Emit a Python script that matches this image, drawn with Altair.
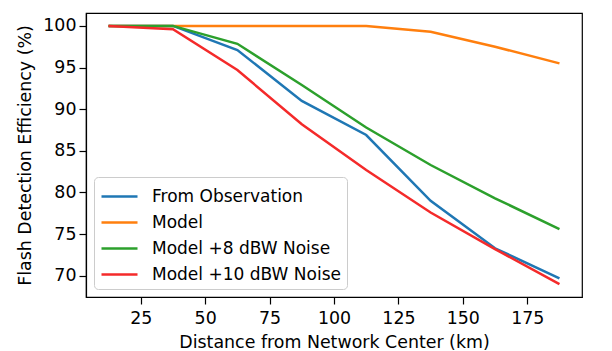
import altair as alt
import pandas as pd

distance = [12.5, 37.5, 62.5, 87.5, 112.5, 137.5, 162.5, 187.5]
observation = [100.0, 100.0, 97.1, 91.0, 86.9, 79.0, 73.3, 69.7]
model = [100.0, 100.0, 100.0, 100.0, 100.0, 99.3, 97.5, 95.5]
model_8 = [100.0, 100.0, 97.85, 92.9, 87.8, 83.3, 79.3, 75.6]
model_10 = [100.0, 99.6, 94.7, 88.2, 82.7, 77.6, 73.2, 69.0]

series_names = ["From Observation", "Model", "Model +8 dBW Noise", "Model +10 dBW Noise"]
series_values = [observation, model, model_8, model_10]
colors = ["#1f77b4", "#ff7f0e", "#2ca02c", "#f42a2a"]

rows = []
for name, vals in zip(series_names, series_values):
    for d, v in zip(distance, vals):
        rows.append({"distance": d, "efficiency": v, "series": name})
df = pd.DataFrame(rows)

FONT = "DejaVu Sans"
FS = 17.4

chart = alt.Chart(df).mark_line(strokeWidth=2.5, clip=True).encode(
    x=alt.X("distance:Q",
            scale=alt.Scale(domain=[3.75, 196.25], nice=False, zero=False),
            axis=alt.Axis(title="Distance from Network Center (km)",
                          values=[25, 50, 75, 100, 125, 150, 175],
                          grid=False, tickSize=7, labelPadding=5,
                          titlePadding=7)),
    y=alt.Y("efficiency:Q",
            scale=alt.Scale(domain=[67.45, 101.55], nice=False, zero=False),
            axis=alt.Axis(title="Flash Detection Efficiency (%)",
                          values=[70, 75, 80, 85, 90, 95, 100],
                          grid=False, tickSize=7, labelPadding=3,
                          titlePadding=8)),
    color=alt.Color("series:N",
                    scale=alt.Scale(domain=series_names, range=colors),
                    sort=series_names,
                    legend=alt.Legend(title=None, orient="bottom-left",
                                      offset=8,
                                      symbolType="M-1,0H2",
                                      symbolStrokeWidth=2.5, symbolSize=576,
                                      symbolFillColor="transparent",
                                      labelFontSize=17, labelFont=FONT,
                                      labelColor="black", rowPadding=4,
                                      labelLimit=400,
                                      padding=6, strokeColor="#cccccc",
                                      fillColor="white", cornerRadius=4,
                                      labelOffset=25)),
    order=alt.Order("distance:Q"),
).properties(
    width=496, height=284,
    autosize=alt.AutoSizeParams(type="none"),
    padding={"left": 78, "top": 5, "right": 22, "bottom": 54},
).configure_view(
    stroke="black", strokeWidth=1.2
).configure_axis(
    labelFont=FONT, titleFont=FONT, labelFontSize=FS, titleFontSize=FS,
    titleFontWeight="normal", labelColor="black", titleColor="black",
    domainColor="black", tickColor="black", domainWidth=1.2, tickWidth=1.2,
)

chart.save("out.html", embed_options={"renderer": "svg", "actions": False})
